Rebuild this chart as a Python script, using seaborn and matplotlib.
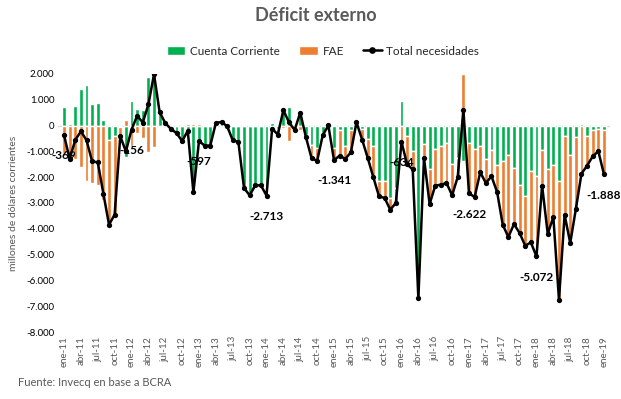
import numpy as np
import matplotlib
matplotlib.use("Agg")
import matplotlib.pyplot as plt
from matplotlib.patches import Patch
from matplotlib.lines import Line2D
import seaborn as sns

# meses ene-11 ... ene-19
meses = ["ene", "feb", "mar", "abr", "may", "jun", "jul", "ago", "sep", "oct", "nov", "dic"]
periodos = [f"{m}-{a}" for a in range(11, 19) for m in meses] + ["ene-19"]

# millones de USD
cuenta_corriente = [
    710, 50, 750, 1400, 1590, 840, 870, 230, -570, -420, -60, -1200,
    970, 660, 620, 1870, 1920, 556, 60, -150, -320, -640, -250, -2640,
    -650, -820, -800, 60, 110, -60, -600, -680, -2450, -2740, -2350, -2350,
    -2300, 100, -130, 710, 710, -80, 620, -350, -740, -870, -300, -60,
    -870, -160, -780, -160, -60, -150, -520, -800, -2160, -2160, -2800, -2420,
    940, -400, -1000, -6400, -700, -1700, -920, -780, -690, -1500, -1250, -1380,
    -670, -900, -780, -1290, -960, -1520, -1380, -1150, -1640, -2290, -2715, -1770,
    -1965, -960, -1680, -1510, -2160, -390, -1150, -440, 80, -390, -155, -130,
    -180,
]
fae = [
    -1080, -1340, -1310, -1620, -2160, -2225, -2295, -2870, -3270, -3030, -350, 200,
    -780, -300, -500, -1035, -840, -65, -20, 20, 30, 40, 50, 50,
    60, 40, 30, 40, 30, 30, 40, 40, 30, 40, 40, 40,
    -410, -200, -220, -110, -600, -90, -180, -90, -520, -500, -70, 70,
    -470, -1000, -520, -880, 190, -390, -740, -1200, -580, -650, -460, -580,
    -600, -1100, -700, -300, -560, -1330, -1410, -1510, -1540, -1200, -740, 2000,
    -1940, -1870, -1030, -930, -1000, -1050, -2460, -3170, -2175, -1875, -1940, -2760,
    -3110, -1370, -2510, -2030, -4590, -3060, -3400, -2790, -1940, -1160, -1035, -870,
    -1710,
]
total_necesidades = [
    -369, -1290, -560, -220, -570, -1385, -1425, -2640, -3840, -3450, -414, -1000,
    -156, 380, 120, 820, 1990, 517, 100, -130, -290, -600, -200, -2586,
    -597, -776, -776, 103, 142, -26, -569, -634, -2418, -2703, -2315, -2315,
    -2713, -116, -349, 595, 129, -170, 500, -440, -1254, -1370, -370, 5,
    -1341, -1164, -1293, -1035, 129, -543, -1255, -2005, -2742, -2806, -3259, -3000,
    -634, -1500, -1700, -6700, -1255, -3040, -2328, -2290, -2225, -2700, -1990, 620,
    -2622, -2770, -1810, -2224, -1965, -2573, -3841, -4320, -3815, -4165, -4657, -4527,
    -5072, -2328, -4190, -3544, -6752, -3453, -4553, -3233, -1862, -1552, -1190, -996,
    -1888,
]
meses_etiqueta = ["ene-11", "ene-12", "ene-13", "ene-14", "ene-15", "ene-16", "ene-17", "ene-18", "ene-19"]

verde = "#00B050"
naranja = "#ED7D31"
gris = "#595959"

sns.set_style("white")
plt.rcParams["font.family"] = ["Lato", "DejaVu Sans"]

fig = plt.figure(figsize=(6.21, 3.99), dpi=100)
ax = fig.add_axes([58.4 / 621, 1 - 332 / 399, 551.2 / 621, 258 / 399])

cc = np.array(cuenta_corriente)
fa = np.array(fae)
# apilado tipo Excel: positivos arriba, negativos abajo
base_fae = np.where(np.sign(fa) == np.sign(cc), cc, 0)

ax.axhline(0, color="#d9d9d9", lw=1, zorder=0.5)
sns.barplot(x=periodos, y=cc, color=verde, saturation=1, width=0.68, ax=ax, zorder=2)
sns.barplot(x=periodos, y=fa, bottom=base_fae, color=naranja, saturation=1, width=0.68,
            ax=ax, zorder=2)
sns.lineplot(x=np.arange(len(periodos)), y=total_necesidades, color="black", lw=1.8,
             marker="o", markersize=3.8, markeredgewidth=0, ax=ax, zorder=3)

# etiquetas de datos (enero de cada año)
for p in meses_etiqueta:
    i = periodos.index(p)
    v = total_necesidades[i]
    txt = f"{v:,.0f}".replace(",", ".")
    ax.annotate(txt, (i, v), xytext=(0, -11), textcoords="offset points",
                ha="center", va="top", fontsize=8.5, fontweight="bold", color="black",
                zorder=4)

ax.set_xlim(-1, len(periodos))
ax.set_ylim(-8000, 2000)
ax.set_yticks(np.arange(-8000, 2001, 1000))
ax.set_yticklabels([f"{v:,.0f}".replace(",", ".") for v in np.arange(-8000, 2001, 1000)],
                   fontsize=7, color="black")
ticks = list(range(0, len(periodos), 3))
ax.set_xticks(ticks)
ax.set_xticklabels([periodos[i] for i in ticks], rotation=90, fontsize=7, color=gris)
ax.tick_params(axis="both", length=0, pad=3)
ax.set_xlabel("")
ax.set_ylabel("millones de dólares corrientes", fontsize=7.5, color=gris, labelpad=6)
sns.despine(ax=ax, left=True, bottom=True)

fig.text(0.508, 0.962, "Déficit externo", ha="center", va="center", fontsize=13,
         fontweight="bold", color=gris)

handles = [Patch(facecolor=verde), Patch(facecolor=naranja),
           Line2D([0], [0], color="black", lw=1.8, marker="o", markersize=3.8)]
fig.legend(handles, ["Cuenta Corriente", "FAE", "Total necesidades"], loc="center",
           bbox_to_anchor=(0.52, 0.872), ncol=3, frameon=False, fontsize=8.5,
           handlelength=1.6, handleheight=0.8, columnspacing=1.6, handletextpad=0.4)

fig.text(18 / 621, 1 - 383 / 399, "Fuente: Invecq en base a BCRA", ha="left", va="center",
         fontsize=8, color=gris)

fig.savefig("out.png", dpi=100)
